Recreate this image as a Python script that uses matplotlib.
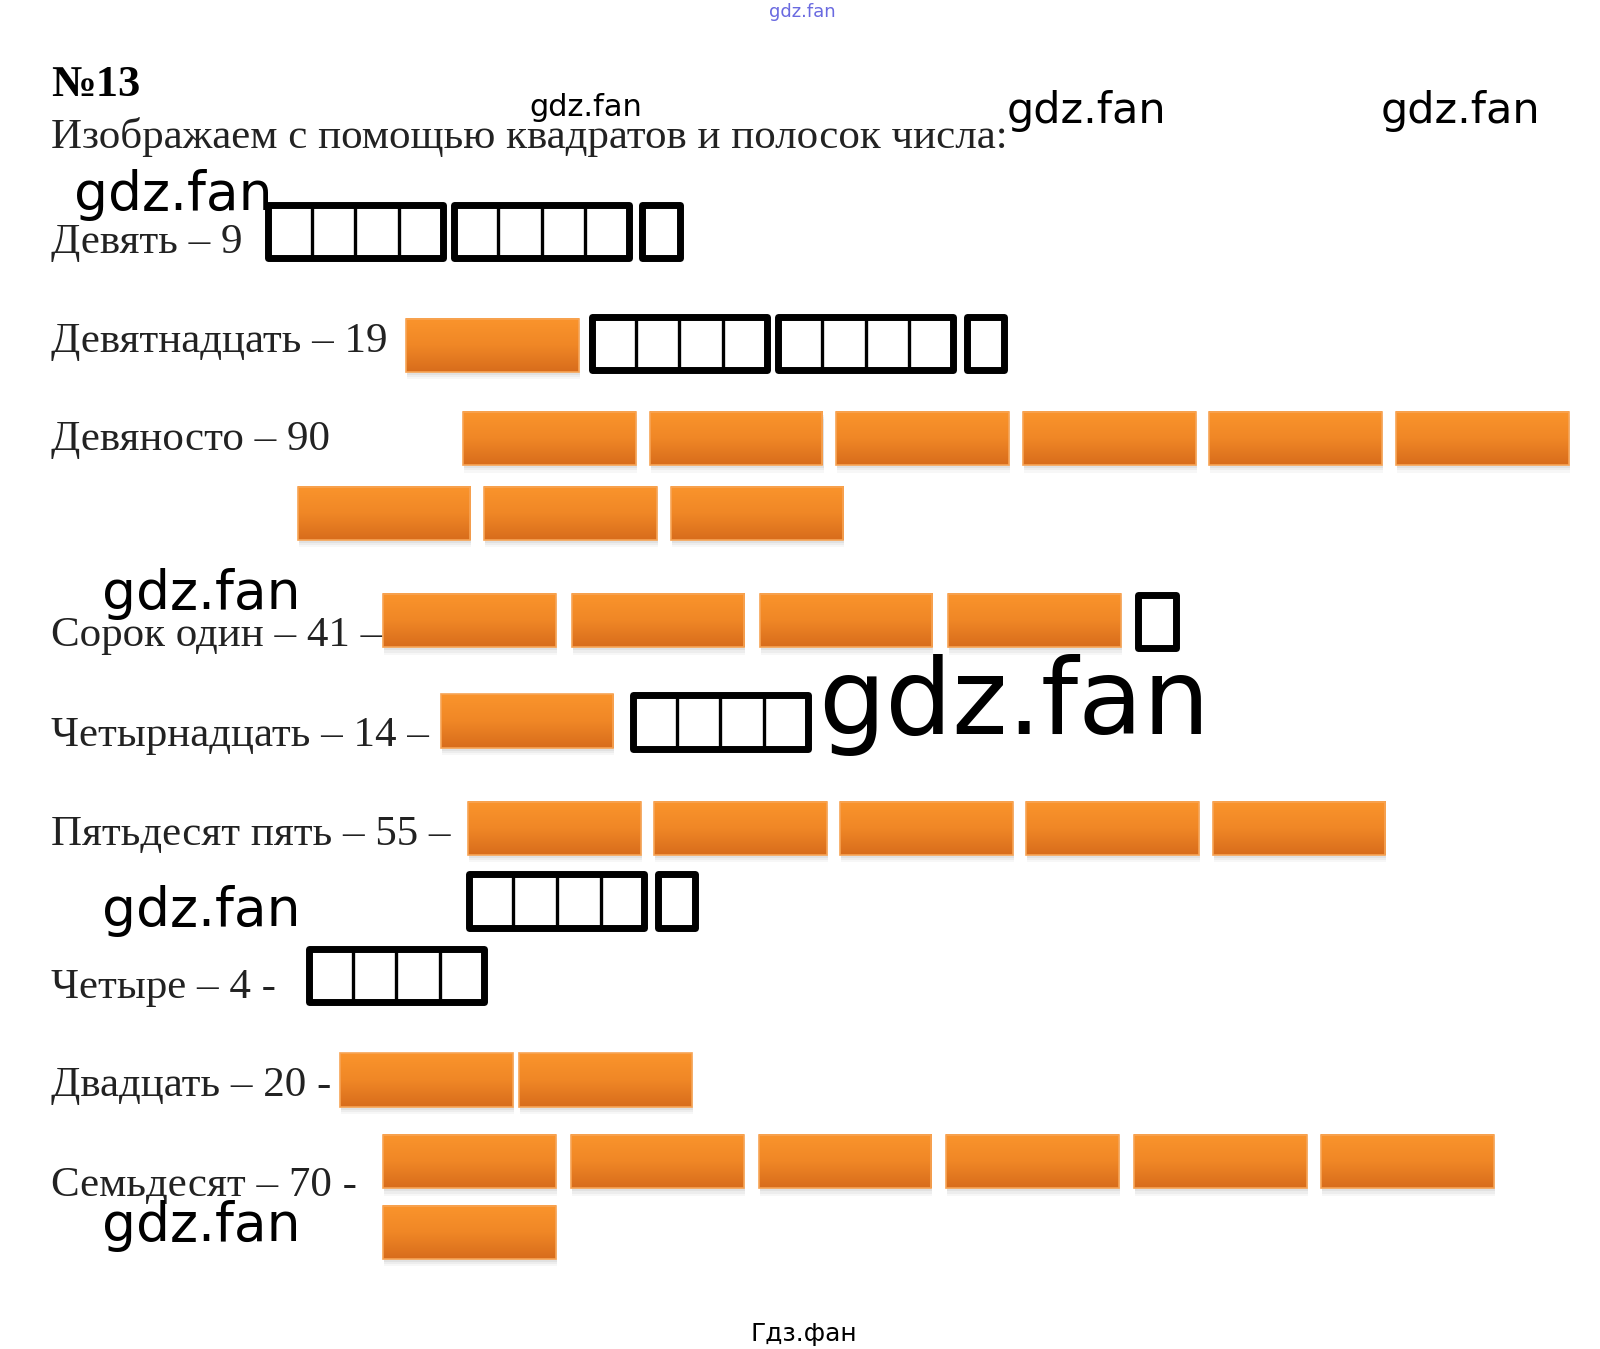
import matplotlib
matplotlib.use("Agg")
import matplotlib.pyplot as plt
import numpy as np
from matplotlib.patches import Rectangle
from matplotlib.colors import LinearSegmentedColormap

# ---------------- data ----------------
words = ["Девять", "Девятнадцать", "Девяносто", "Сорок один", "Четырнадцать",
         "Пятьдесят пять", "Четыре", "Двадцать", "Семьдесят"]
numbers = [9, 19, 90, 41, 14, 55, 4, 20, 70]
tails = ["", "", "", " –", " –", " –", " -", " -", " -"]
title_no = "№13"
title_text = "Изображаем с помощью квадратов и полосок числа:"

# ---------------- layout (page units) ----------------
W, H = 1565, 1319
label_base = [247, 344, 440, 632, 729, 826, 976, 1072, 1169]
bar_x0 = [None, 397, 453, 375, 431, 458, None, 333, 375]
bar_top = [None, 312, 403, 581, 679, 784, None, 1030, 1110]
bar_pitch = [183, 183, 182.5, 184, 183, 182, 183, 175, 183.5]
wrap_x0 = [None, None, 291, None, None, None, None, None, 375]
wrap_top = [None, None, 476, None, None, None, None, None, 1179]
per_line = 6
sq_x0 = [262, 579, None, 1111, 619, 459, 302, None, None]
sq_top = [200, 310, None, 582, 680, 855, 928, None, None]
BAR_W, BAR_H = 169, 52
CELL_W, CELL_H, SINGLE_W = 42.8, 52, 37
GROUP_GAP, SINGLE_GAP = 11, 13

fig = plt.figure(figsize=(16, 13.49), dpi=100)
ax = fig.add_axes([0, 0, 1, 1])
ax.set_xlim(0, W)
ax.set_ylim(H, 0)
ax.axis("off")

cmap = LinearSegmentedColormap.from_list("orng", ["#FA942C", "#F08726", "#D86C1C"])
grad = np.linspace(0, 1, 64).reshape(-1, 1)

def bar(x, y):
    for k, a in [(7, 0.06), (5, 0.08), (3, 0.10)]:
        ax.add_patch(Rectangle((x + 1, y + k), BAR_W, BAR_H, facecolor="#808080",
                               edgecolor="none", alpha=a, zorder=1))
    ax.imshow(grad, cmap=cmap, extent=(x, x + BAR_W, y + BAR_H, y), origin="upper",
              aspect="auto", zorder=2, interpolation="bilinear")
    ax.add_patch(Rectangle((x, y), BAR_W, BAR_H, facecolor="none",
                           edgecolor="#F7A455", linewidth=1.2, zorder=3))

def squares(x, y, count):
    groups, singles = divmod(count, 4)
    for g in range(groups):
        for c in range(1, 4):
            ax.plot([x + c * CELL_W, x + c * CELL_W], [y, y + CELL_H], color="black",
                    linewidth=2.4, solid_capstyle="butt", zorder=4)
        ax.add_patch(Rectangle((x, y), 4 * CELL_W, CELL_H, facecolor="none",
                               edgecolor="black", linewidth=5.0, joinstyle="round", zorder=5))
        x += 4 * CELL_W + GROUP_GAP
    for s in range(singles):
        ax.add_patch(Rectangle((x + SINGLE_GAP - GROUP_GAP, y), SINGLE_W, CELL_H, facecolor="none",
                               edgecolor="black", linewidth=5.0, joinstyle="round", zorder=5))
        x += SINGLE_W + SINGLE_GAP

serif = ["Liberation Serif", "DejaVu Serif"]
sans = ["DejaVu Sans"]

ax.text(50, 94, title_no, fontsize=32, fontweight="bold", family=serif, va="baseline")
ax.text(50, 145, title_text, fontsize=31, family=serif, va="baseline", color="#222222")

for i, (w, n, t) in enumerate(zip(words, numbers, tails)):
    ax.text(50, label_base[i], f"{w} – {n}{t}", fontsize=31, family=serif,
            va="baseline", color="#222222")
    tens, ones = divmod(n, 10)
    for b in range(tens):
        if b < per_line or wrap_x0[i] is None:
            bx = bar_x0[i] + b * bar_pitch[i]
            by = bar_top[i]
        else:
            bx = wrap_x0[i] + (b - per_line) * bar_pitch[i]
            by = wrap_top[i]
        bar(bx, by)
    if ones:
        squares(sq_x0[i], sq_top[i], ones)

# watermarks
wm = [(518, 113, 22), (985, 120, 31), (1350, 120, 31), (72, 205, 38.5),
      (100, 595, 38.5), (800, 718, 76), (100, 905, 38.5), (100, 1213, 38.5)]
for x, y, s in wm:
    ax.text(x, y, "gdz.fan", fontsize=s, family=sans, va="baseline", color="black", zorder=6)
ax.text(752, 17, "gdz.fan", fontsize=13, family=sans, va="baseline", color="#6a6ae0", zorder=6)
ax.text(786, 1311, "Гдз.фан", fontsize=18, family=sans, va="baseline", ha="center",
        color="black", zorder=6)

ax.set_xlim(0, W)
ax.set_ylim(H, 0)
fig.savefig("out.png", dpi=100, facecolor="white")
